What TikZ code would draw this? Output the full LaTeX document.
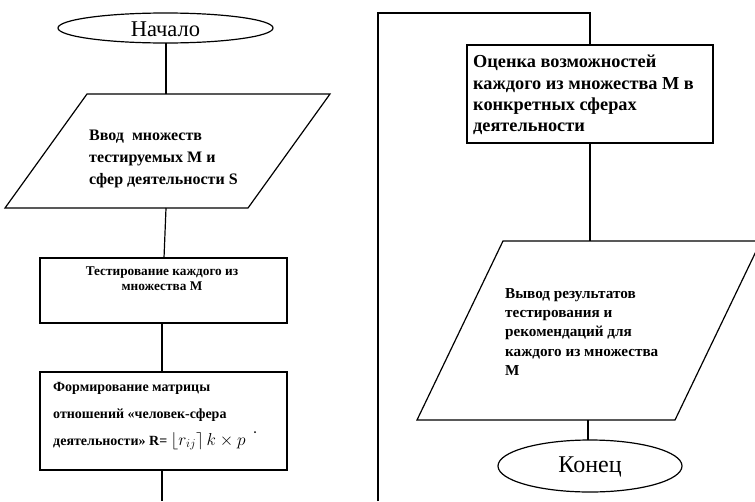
\documentclass[tikz,border=0pt]{standalone}
\usepackage{fontspec}
\setmainfont{Liberation Serif}
\usetikzlibrary{calc}
\begin{document}
\begin{tikzpicture}[x=1pt,y=-1pt,
  shape line/.style={draw=black,line width=1.2pt,line join=miter},
  conn/.style={draw=black,line width=1.2pt},
  txt/.style={inner sep=0pt,align=left,anchor=west,font=\bfseries}]
\useasboundingbox (0,0) rectangle (755,501);
\fill[white] (0,0) rectangle (755,501);
% --- left column ---
\draw[shape line] (165.5,28) ellipse [x radius=107.5, y radius=15];
\node[inner sep=0pt,font=\fontsize{22.5}{26}\selectfont] (start) at (165.5,29) {Начало};
\coordinate (startB) at (166,43);

\draw[shape line] (87,94) -- (330,94) -- (248,208) -- (5,208) -- cycle;
\coordinate (in1T) at (166,94);
\coordinate (in1B) at (166,208);
\node[txt,font=\bfseries\fontsize{16}{22}\selectfont] (in1) at (89,159)
  {Ввод\ \ множеств\\тестируемых М и\\сфер деятельности S};

\draw[shape line] (40,258) rectangle (287,323);
\coordinate (t1T) at (164,258);
\coordinate (t1B) at (162,323);
\node[inner sep=0pt,align=center,font=\bfseries\fontsize{13.3}{14.8}\selectfont] (t1) at (162,279)
  {Тестирование каждого из\\множества М};

\draw[shape line] (40,372) rectangle (287,470);
\coordinate (m1T) at (162,372);
\coordinate (m1B) at (162,470);
\node[txt,font=\bfseries\fontsize{14}{27}\selectfont] (m1) at (53,416)
  {Формирование матрицы\\отношений «человек-сфера\\деятельности» R=\ {\fontsize{17}{20}\selectfont$\lfloor r_{ij}\rceil\,k \times p$}};
\coordinate (leftEnd) at (162,501);
\fill (255,432) circle (1pt);

\draw[conn] (startB) -- (in1T);
\draw[conn] (in1B) -- (t1T);
\draw[conn] (t1B) -- (m1T);
\draw[conn] (m1B) -- (leftEnd);

% --- right column ---
\coordinate (rightBot) at (378,501);
\coordinate (rTopL) at (378,13);
\coordinate (rTopR) at (590,13);
\draw[shape line] (467,45) rectangle (713,143);
\coordinate (evT) at (590,45);
\coordinate (evB) at (590,143);
\node[txt,font=\bfseries\fontsize{18.3}{21.3}\selectfont] (ev) at (473,95)
  {Оценка возможностей\\каждого из множества М в\\конкретных сферах\\деятельности};

\draw[shape line] (503,241) -- (761,241) -- (675,420) -- (417,420) -- cycle;
\coordinate (outT) at (590,241);
\coordinate (outB) at (588,420);
\node[txt,font=\bfseries\fontsize{15.2}{19.3}\selectfont] (out) at (505,332)
  {Вывод результатов\\тестирования и\\рекомендаций для\\каждого из множества\\М};

\draw[shape line] (590,466) ellipse [x radius=92, y radius=26];
\node[inner sep=0pt,font=\fontsize{24}{28}\selectfont] (end) at (590,467) {Конец};
\coordinate (endT) at (588,440);

\draw[conn] (rightBot) -- (rTopL) -- (rTopR) -- (evT);
\draw[conn] (evB) -- (outT);
\draw[conn] (outB) -- (endT);
\end{tikzpicture}
\end{document}
